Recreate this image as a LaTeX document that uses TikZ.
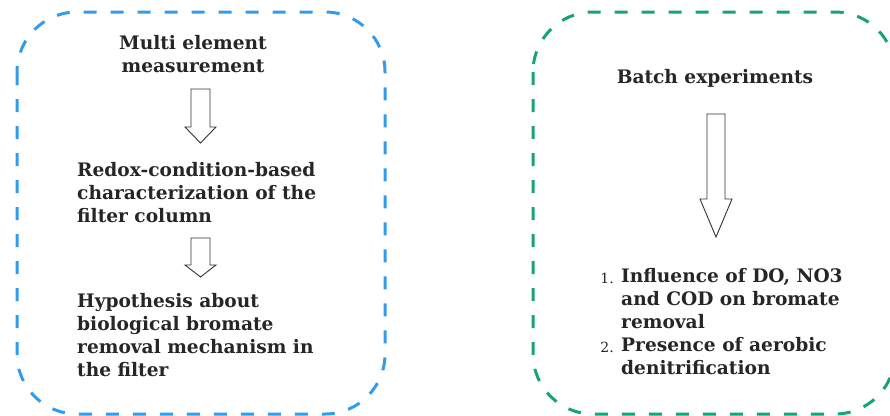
\documentclass[tikz,border=0pt]{standalone}
\usepackage{fontspec}
\setmainfont{DejaVu Serif}
\definecolor{boxblue}{RGB}{52,155,235}
\definecolor{boxgreen}{RGB}{24,162,122}
\begin{document}
\begin{tikzpicture}[x=1pt,y=-1pt,
  frame/.style={dash pattern=on 13pt off 14pt, line width=3pt, rounded corners=60pt},
  txt/.style={font=\bfseries\fontsize{18.6}{23}\selectfont, inner sep=0pt, align=left, anchor=base west, text=black!85},
  num/.style={font=\fontsize{14}{23}\selectfont, inner sep=0pt, anchor=base east, text=black!85},
  blockarrow/.style={draw=black!80, line width=0.9pt, fill=white}]
\useasboundingbox (0,0) rectangle (890,415);
\draw[frame, boxblue] (17,12) rectangle (385,414);
\draw[frame, boxgreen] (533,12) rectangle (895,414);
\node[txt, align=center, anchor=base] (t1) at (193,72) {Multi element\\measurement};
\node[txt] (t2) at (77,222) {Redox-condition-based\\characterization of the\\filter column};
\node[txt] (t3) at (77,376) {Hypothesis about\\biological bromate\\removal mechanism in\\the filter};
\node[txt, anchor=base] (t4) at (715,83) {Batch experiments};
\node[txt] (i1) at (621,328) {Influence of DO, NO3\\and COD on bromate\\removal};
\node[txt] (i2) at (621,374) {Presence of aerobic\\denitrification};
\node[num] (n1) at (614,283) {1.};
\node[num] (n2) at (614,352) {2.};
\draw[blockarrow] (191,89) -- (210,89) -- (210,127) -- (216,127) -- (200.5,143) -- (185,127) -- (191,127) -- cycle;
\draw[blockarrow] (191,238) -- (210,238) -- (210,265) -- (216,265) -- (200.5,277) -- (185,265) -- (191,265) -- cycle;
\draw[blockarrow] (707,114) -- (725,114) -- (725,199) -- (732,199) -- (716,237) -- (700,199) -- (707,199) -- cycle;
\end{tikzpicture}
\end{document}
